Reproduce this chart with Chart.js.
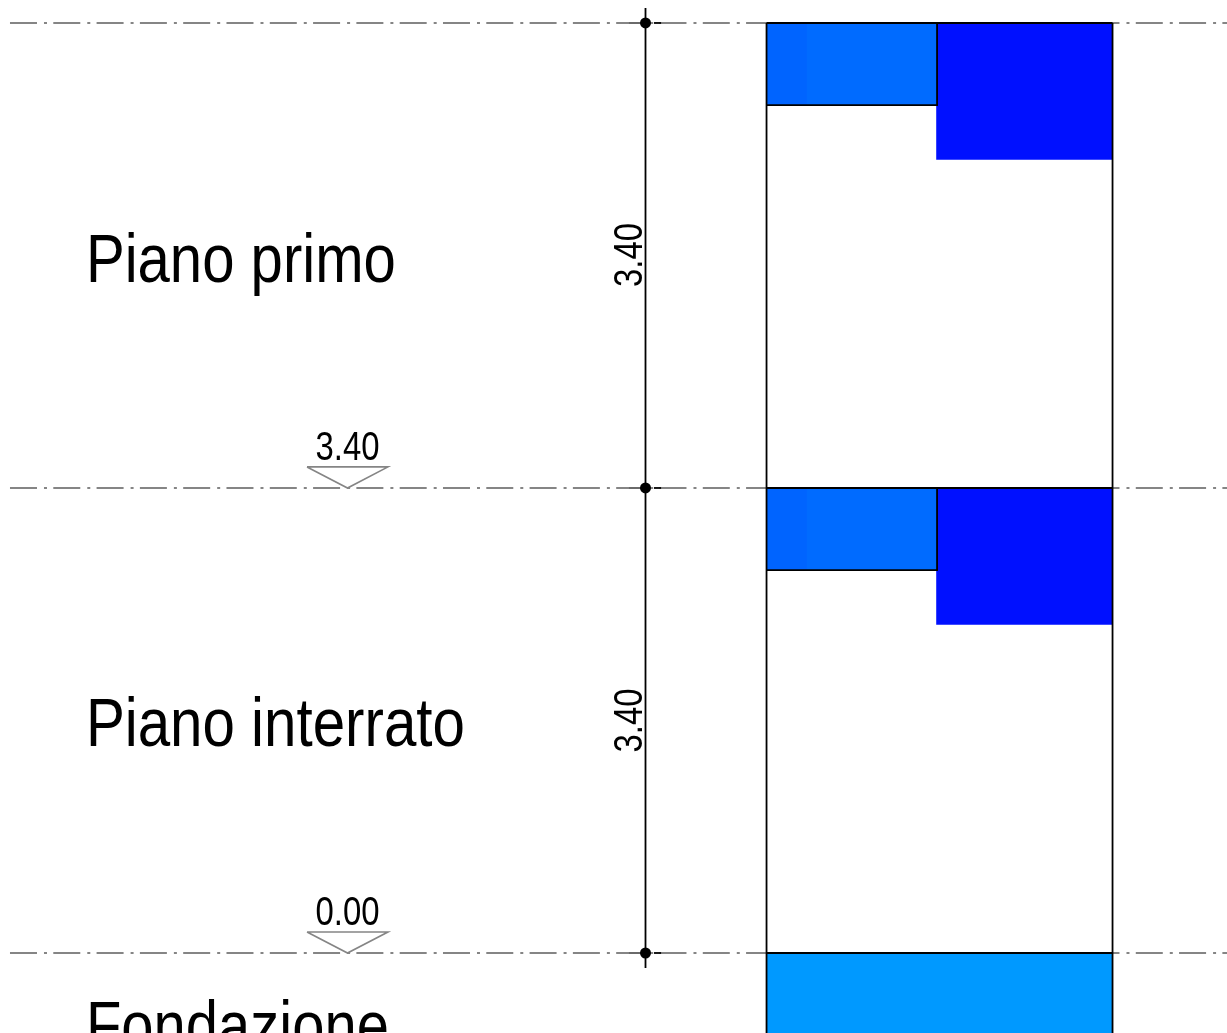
<!DOCTYPE html>
<html>
<head>
<meta charset="utf-8">
<title>Sezione</title>
<script src="https://cdn.jsdelivr.net/npm/chart.js@4"></script>
<style>
  html, body { margin: 0; padding: 0; background: #fff; overflow: hidden; }
  canvas { display: block; }
</style>
</head>
<body>
<canvas id="sectionChart" width="1227" height="1033"></canvas>
<script>
// everything is in metres
const storeyNames = ['Piano primo', 'Piano interrato', 'Fondazione'];
const elevationLabels = ['3.40', '0.00'];
const dimensionLabels = ['3.40', '3.40'];

const levels = [6.8, 3.4, 0];
const markedLevels = [3.4, 0];
const wallX = [0, 2.53];
const stripX = [0, 0.295];
const slabX = [0, 1.247];
const deepX = [1.24, 2.53];
const slabDepth = 0.6;
const deepDepth = 1.0;
const foundationBottom = -0.6;

const datumX = [-5.532, 3.367];
const dimX = -0.885;
const dimY = [6.91, -0.11];
const tickLeftX = [-1.006, -0.918];
const tickRightX = [-0.823, -0.771];
const markerX = [-3.36, -2.768, -3.064, -3.36];
const markerY = [0.154, 0.154, 0, 0.154];

const GREY = '#858585';
const BLACK = '#000000';

function path(xs, ys, color, width, dash) {
    return {
        data: xs.map((x, i) => ({ x: x, y: ys[i] })),
        showLine: true,
        borderColor: color,
        borderWidth: width,
        borderDash: dash || [],
        borderCapStyle: 'butt',
        pointRadius: 0,
        tension: 0,
        fill: false
    };
}

function block(xs, top, bottom, color) {
    const d = path(xs, [bottom, bottom], color, 0);
    d.backgroundColor = color;
    d.fill = { value: top };
    return d;
}

const painted = [];

levels.forEach(level => {
    painted.push(path(datumX, [level, level], GREY, 1.8, [27, 7, 3, 6.3]));
});

levels.slice(0, 2).forEach(level => {
    painted.push(block(deepX, level, level - deepDepth, '#0010FF'));
    painted.push(block(slabX, level, level - slabDepth, '#006BFF'));
    painted.push(block(stripX, level, level - slabDepth, '#0064FF'));
});
painted.push(block(wallX, 0, foundationBottom, '#0099FF'));

// wall outline
painted.push(path([wallX[0], wallX[0]], [levels[0], foundationBottom], BLACK, 1.8));
painted.push(path([wallX[1], wallX[1]], [levels[0], foundationBottom], BLACK, 1.8));
levels.forEach(level => {
    painted.push(path(wallX, [level, level], BLACK, 2));
});
levels.slice(0, 2).forEach(level => {
    const b = level - slabDepth;
    painted.push(path([slabX[0], slabX[1], slabX[1]], [b, b, level], BLACK, 1.8));
});

// dimension line with ticks and dots
painted.push(path([dimX, dimX], dimY, BLACK, 1.8));
levels.forEach(level => {
    painted.push(path(tickLeftX, [level, level], '#6a6a6a', 2));
    painted.push(path(tickRightX, [level, level], BLACK, 1.8));
});
painted.push({
    data: levels.map(level => ({ x: dimX, y: level })),
    showLine: false,
    pointRadius: 5.5,
    pointBackgroundColor: BLACK,
    pointBorderWidth: 0
});

// level markers
markedLevels.forEach(level => {
    painted.push(path(markerX, markerY.map(y => level + y), GREY, 1.6));
});

// Chart.js paints the lowest order last
painted.forEach((d, i) => { d.order = painted.length - i; });

const sectionLabels = {
    id: 'sectionLabels',
    afterDraw(chart) {
        const { ctx, scales: { x, y } } = chart;
        ctx.save();
        ctx.fillStyle = BLACK;
        ctx.textBaseline = 'alphabetic';

        ctx.textAlign = 'left';
        ctx.font = "69px 'Liberation Sans Narrow', 'Liberation Sans', sans-serif";
        const nameY = [4.906, 1.513, -0.702];
        const nameW = [310, 379, 303];
        storeyNames.forEach((name, i) => {
            ctx.fillText(name, x.getPixelForValue(-4.977), y.getPixelForValue(nameY[i]), nameW[i]);
        });

        ctx.textAlign = 'center';
        ctx.font = "40px 'Liberation Sans Narrow', 'Liberation Sans', sans-serif";
        elevationLabels.forEach((label, i) => {
            ctx.fillText(label, x.getPixelForValue(-3.064), y.getPixelForValue(markedLevels[i] + 0.207), 64);
        });

        const dimMid = [5.104, 1.7];
        dimensionLabels.forEach((label, i) => {
            ctx.save();
            ctx.translate(x.getPixelForValue(-0.911), y.getPixelForValue(dimMid[i]));
            ctx.rotate(-Math.PI / 2);
            ctx.fillText(label, 0, 0, 64);
            ctx.restore();
        });
        ctx.restore();
    }
};

new Chart(document.getElementById('sectionChart').getContext('2d'), {
    type: 'scatter',
    data: { datasets: painted },
    plugins: [sectionLabels],
    options: {
        responsive: false,
        animation: false,
        layout: { padding: 0, autoPadding: false },
        plugins: { legend: { display: false }, tooltip: { enabled: false } },
        scales: {
            x: { type: 'linear', display: false, min: -5.605, max: 3.367 },
            y: { type: 'linear', display: false, min: -0.585, max: 6.968 }
        }
    }
});
</script>
</body>
</html>
